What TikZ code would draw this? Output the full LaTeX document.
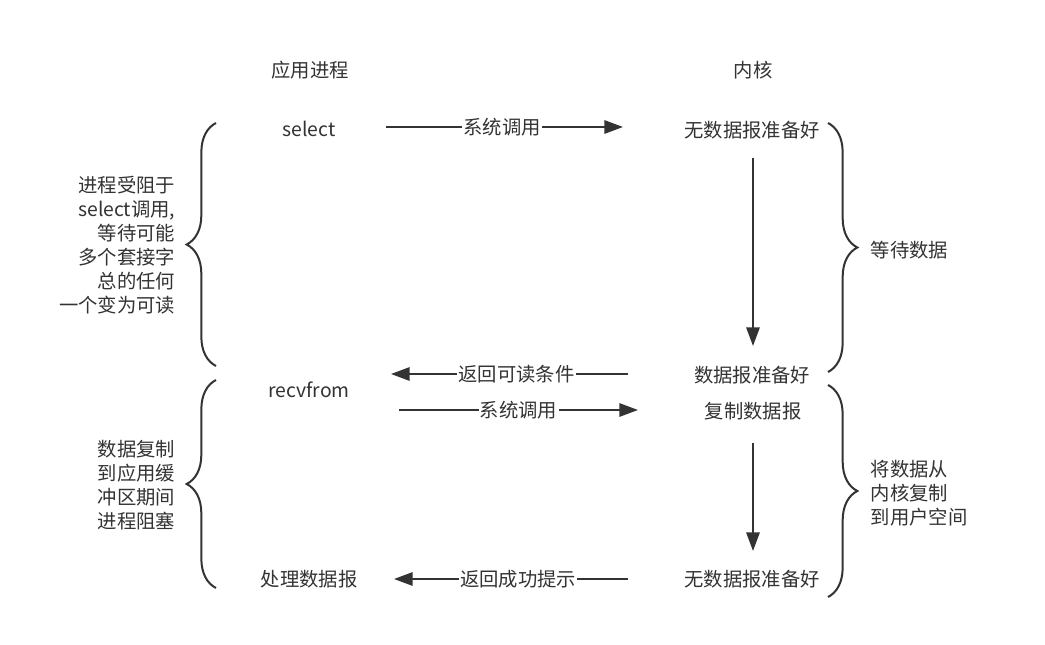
\documentclass[tikz,border=0pt]{standalone}
\usepackage{fontspec}
\setmainfont{Noto Sans CJK SC}
\usepackage{xcolor}
\usetikzlibrary{arrows.meta, decorations.pathreplacing, positioning}
\definecolor{ink}{HTML}{333333}

\begin{document}
\begin{tikzpicture}[x=0.75pt, y=-0.75pt,
    txt/.style={text=ink, font=\fontsize{14.5}{18}\selectfont},
    tag/.style={txt, fill=white, inner sep=1pt},
    call/.style={draw=ink, line width=1.5pt, -{Triangle[length=14pt,width=10pt]}},
    brc/.style={draw=ink, line width=1.5pt, decorate, decoration={brace, amplitude=22pt}}]
    \fill[white] (0,0) rectangle (1045,645);
    \useasboundingbox (0,0) rectangle (1045,645);

    % column titles
    \node[txt] (app) at (310,70) {应用进程};
    \node[txt] (ker) at (753,70) {内核};

    % process side
    \node[txt] (sel) at (309,129) {select};
    \node[txt] (rcv) at (309,390) {recvfrom};
    \node[txt] (proc) at (309,579) {处理数据报};

    % kernel side
    \node[txt] (k1) at (752,130) {无数据报准备好};
    \node[txt] (k2) at (752,375) {数据报准备好};
    \node[txt] (k3) at (753,411) {复制数据报};
    \node[txt] (k4) at (752,579) {无数据报准备好};

    % arrow ends
    \coordinate (c1a) at (386,127);  \coordinate (c1b) at (623,127);
    \coordinate (c2a) at (628,374);  \coordinate (c2b) at (391,374);
    \coordinate (c3a) at (399,410);  \coordinate (c3b) at (638,410);
    \coordinate (c4a) at (628,579);  \coordinate (c4b) at (394,579);
    \coordinate (v1a) at (753,158);  \coordinate (v1b) at (753,346);
    \coordinate (v2a) at (753,443);  \coordinate (v2b) at (753,551);

    \draw[call] (c1a) -- (c1b) node[tag, pos=0.49] {系统调用};
    \draw[call] (c2a) -- (c2b) node[tag, pos=0.47] {返回可读条件};
    \draw[call] (c3a) -- (c3b) node[tag, pos=0.5] {系统调用};
    \draw[call] (c4a) -- (c4b) node[tag, pos=0.47] {返回成功提示};
    \draw[call] (v1a) -- (v1b);
    \draw[call] (v2a) -- (v2b);

    % braces
    \draw[brc] (216,366) -- (216,123);
    \draw[brc] (216,588) -- (216,380);
    \draw[brc] (828,123) -- (828,372);
    \draw[brc] (828,385) -- (828,597);

    % notes
    \node[txt, align=right, anchor=east] (n1) at (180,245)
        {进程受阻于\\select调用,\\等待可能\\多个套接字\\总的任何\\一个变为可读};
    \node[txt, align=right, anchor=east] (n2) at (180,485)
        {数据复制\\到应用缓\\冲区期间\\进程阻塞};
    \node[txt, anchor=west] (n3) at (866,250) {等待数据};
    \node[txt, align=left, anchor=west] (n4) at (866,493)
        {将数据从\\内核复制\\到用户空间};
\end{tikzpicture}
\end{document}
